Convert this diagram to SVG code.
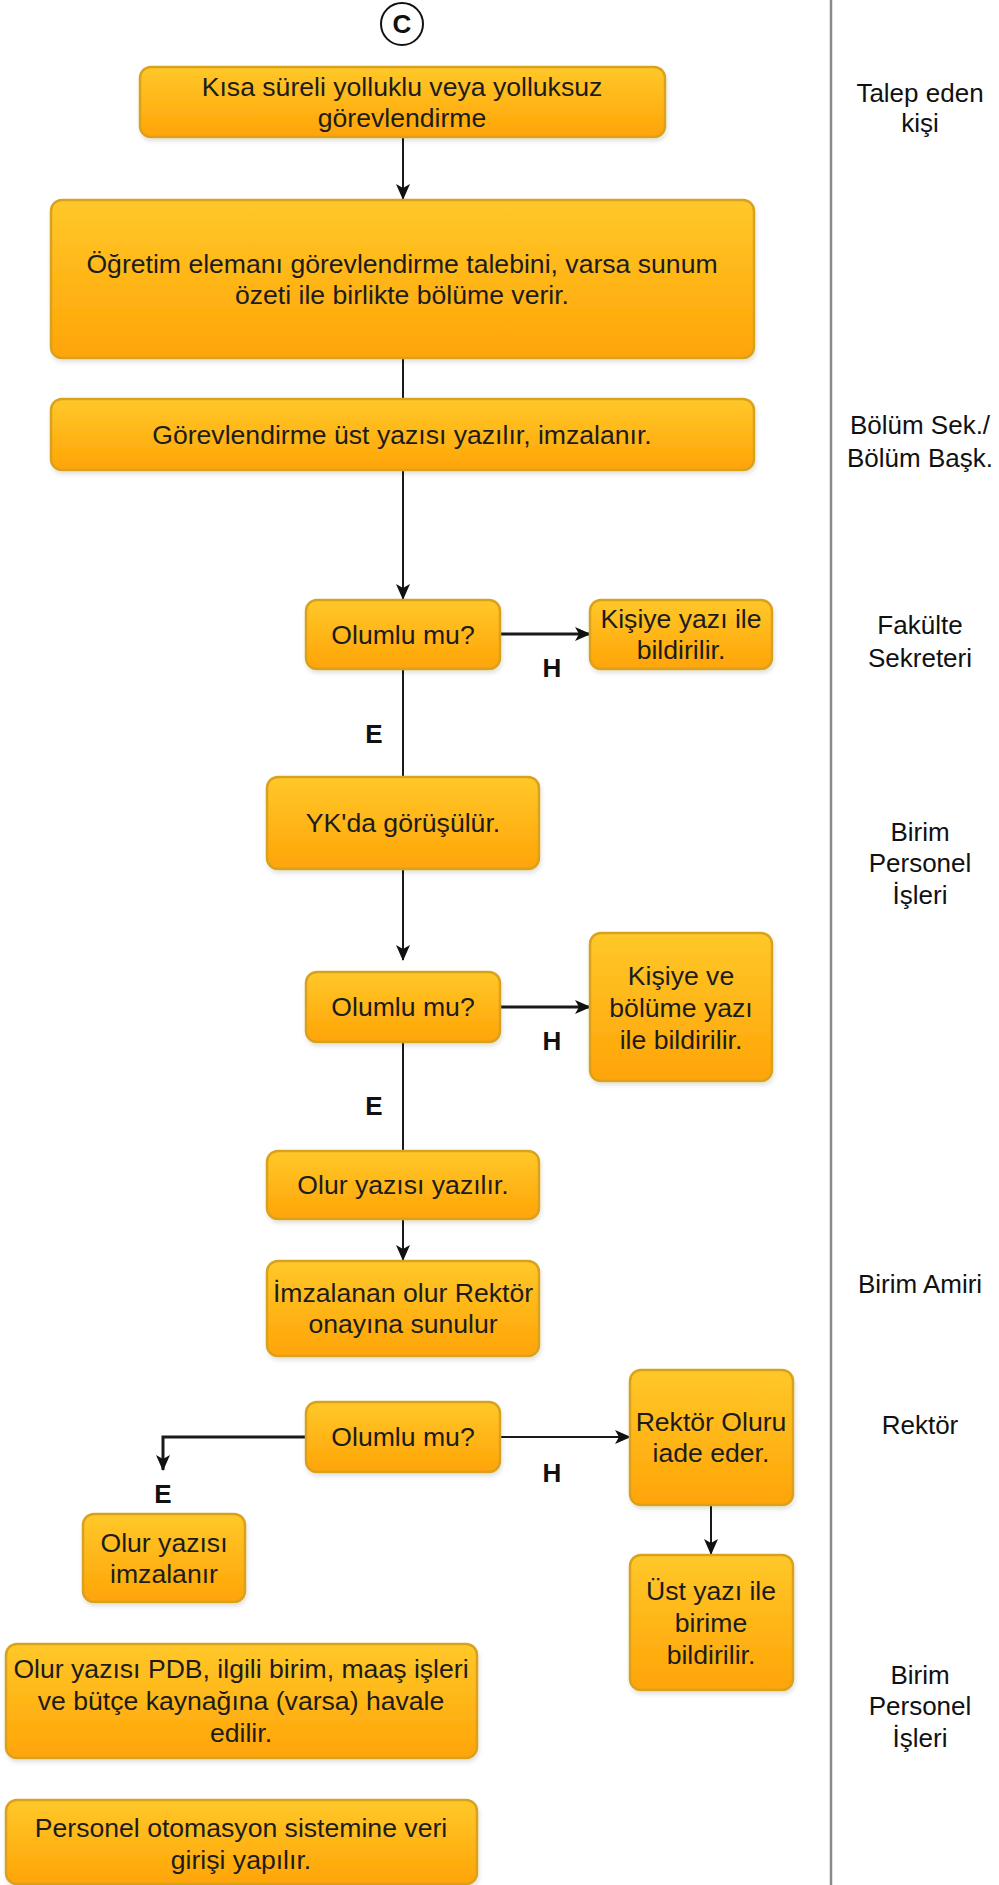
<svg xmlns="http://www.w3.org/2000/svg" width="999" height="1885" viewBox="0 0 999 1885">
<style>
.box{fill:url(#og);stroke:#D9A21C;stroke-width:2.5;filter:url(#sh)}
.t{font-family:"Liberation Sans",Arial,sans-serif;font-size:26.6px;fill:#1c1c1c;text-anchor:middle}
.lane{font-family:"Liberation Sans",Arial,sans-serif;font-size:26px;fill:#111;text-anchor:middle}
.lbl{font-family:"Liberation Sans",Arial,sans-serif;font-size:26px;font-weight:bold;fill:#111;text-anchor:middle}
.c{fill:none;stroke:#1a1a1a;stroke-width:2}
.ch{fill:none;stroke:#1a1a1a;stroke-width:3}
</style>
<defs>
<linearGradient id="og" x1="0" y1="0" x2="0" y2="1">
<stop offset="0" stop-color="#FFC82A"/>
<stop offset="1" stop-color="#FFA406"/>
</linearGradient>
<filter id="sh" x="-10%" y="-10%" width="120%" height="130%">
<feDropShadow dx="1" dy="3" stdDeviation="2" flood-color="#000" flood-opacity="0.12"/>
</filter>
<marker id="ah" viewBox="0 0 16 14" refX="15" refY="7" markerWidth="16" markerHeight="14" markerUnits="userSpaceOnUse" orient="auto">
<path d="M0,0 L16,7 L0,14 L4,7 z" fill="#111"/>
</marker>
</defs>
<rect width="999" height="1885" fill="#fff"/>
<line x1="831" y1="0" x2="831" y2="1885" stroke="#8a8a8a" stroke-width="2.5"/>
<g id="lanes">
<text class="lane" x="920" y="102">Talep eden</text>
<text class="lane" x="920" y="132">kişi</text>
<text class="lane" x="920" y="434">Bölüm Sek./</text>
<text class="lane" x="920" y="467">Bölüm Başk.</text>
<text class="lane" x="920" y="634">Fakülte</text>
<text class="lane" x="920" y="667">Sekreteri</text>
<text class="lane" x="920" y="841">Birim</text>
<text class="lane" x="920" y="872">Personel</text>
<text class="lane" x="920" y="904">İşleri</text>
<text class="lane" x="920" y="1293">Birim Amiri</text>
<text class="lane" x="920" y="1434">Rektör</text>
<text class="lane" x="920" y="1684">Birim</text>
<text class="lane" x="920" y="1715">Personel</text>
<text class="lane" x="920" y="1747">İşleri</text>
</g>
<g id="connectors">
<line class="c" x1="403" y1="137" x2="403" y2="199" marker-end="url(#ah)"/>
<line class="c" x1="403" y1="358" x2="403" y2="399"/>
<line class="c" x1="403" y1="470" x2="403" y2="599" marker-end="url(#ah)"/>
<line class="ch" x1="500" y1="634" x2="590" y2="634" marker-end="url(#ah)"/>
<line class="c" x1="403" y1="669" x2="403" y2="777"/>
<line class="c" x1="403" y1="869" x2="403" y2="960" marker-end="url(#ah)"/>
<line class="ch" x1="500" y1="1007" x2="590" y2="1007" marker-end="url(#ah)"/>
<line class="c" x1="403" y1="1042" x2="403" y2="1151"/>
<line class="c" x1="403" y1="1219" x2="403" y2="1260" marker-end="url(#ah)"/>
<line class="c" x1="500" y1="1437" x2="630" y2="1437" marker-end="url(#ah)"/>
<path class="ch" d="M306,1437 H163 V1470" marker-end="url(#ah)"/>
<line class="c" x1="711" y1="1505" x2="711" y2="1554" marker-end="url(#ah)"/>
</g>
<g id="edge-labels">
<text class="lbl" x="552" y="677">H</text>
<text class="lbl" x="374" y="743">E</text>
<text class="lbl" x="552" y="1050">H</text>
<text class="lbl" x="374" y="1115">E</text>
<text class="lbl" x="552" y="1482">H</text>
<text class="lbl" x="163" y="1503">E</text>
</g>
<g id="start">
<circle cx="402" cy="24" r="21" fill="#fff" stroke="#111" stroke-width="2"/>
<text class="lbl" x="402" y="33">C</text>
</g>
<g id="n1"><rect class="box" x="140" y="67" width="525" height="70" rx="11"/>
<text class="t" x="402" y="96">Kısa süreli yolluklu veya yolluksuz</text>
<text class="t" x="402" y="127">görevlendirme</text></g>
<g id="n2"><rect class="box" x="51" y="200" width="703" height="158" rx="11"/>
<text class="t" x="402" y="273">Öğretim elemanı görevlendirme talebini, varsa sunum</text>
<text class="t" x="402" y="304">özeti ile birlikte bölüme verir.</text></g>
<g id="n3"><rect class="box" x="51" y="399" width="703" height="71" rx="11"/>
<text class="t" x="402" y="444">Görevlendirme üst yazısı yazılır, imzalanır.</text></g>
<g id="d1"><rect class="box" x="306" y="600" width="194" height="69" rx="11"/>
<text class="t" x="403" y="644">Olumlu mu?</text></g>
<g id="n4"><rect class="box" x="590" y="600" width="182" height="69" rx="11"/>
<text class="t" x="681" y="628">Kişiye yazı ile</text>
<text class="t" x="681" y="659">bildirilir.</text></g>
<g id="n5"><rect class="box" x="267" y="777" width="272" height="92" rx="11"/>
<text class="t" x="403" y="832">YK'da görüşülür.</text></g>
<g id="d2"><rect class="box" x="306" y="972" width="194" height="70" rx="11"/>
<text class="t" x="403" y="1016">Olumlu mu?</text></g>
<g id="n6"><rect class="box" x="590" y="933" width="182" height="148" rx="11"/>
<text class="t" x="681" y="985">Kişiye ve</text>
<text class="t" x="681" y="1017">bölüme yazı</text>
<text class="t" x="681" y="1049">ile bildirilir.</text></g>
<g id="n7"><rect class="box" x="267" y="1151" width="272" height="68" rx="11"/>
<text class="t" x="403" y="1194">Olur yazısı yazılır.</text></g>
<g id="n8"><rect class="box" x="267" y="1261" width="272" height="95" rx="11"/>
<text class="t" x="403" y="1302">İmzalanan olur Rektör</text>
<text class="t" x="403" y="1333">onayına sunulur</text></g>
<g id="d3"><rect class="box" x="306" y="1402" width="194" height="70" rx="11"/>
<text class="t" x="403" y="1446">Olumlu mu?</text></g>
<g id="n9"><rect class="box" x="630" y="1370" width="163" height="135" rx="11"/>
<text class="t" x="711" y="1431">Rektör Oluru</text>
<text class="t" x="711" y="1462">iade eder.</text></g>
<g id="n10"><rect class="box" x="83" y="1514" width="162" height="88" rx="11"/>
<text class="t" x="164" y="1552">Olur yazısı</text>
<text class="t" x="164" y="1583">imzalanır</text></g>
<g id="n11"><rect class="box" x="630" y="1555" width="163" height="135" rx="11"/>
<text class="t" x="711" y="1600">Üst yazı ile</text>
<text class="t" x="711" y="1632">birime</text>
<text class="t" x="711" y="1664">bildirilir.</text></g>
<g id="n12"><rect class="box" x="6" y="1644" width="471" height="114" rx="11"/>
<text class="t" x="241" y="1678">Olur yazısı PDB, ilgili birim, maaş işleri</text>
<text class="t" x="241" y="1710">ve bütçe kaynağına (varsa) havale</text>
<text class="t" x="241" y="1742">edilir.</text></g>
<g id="n13"><rect class="box" x="6" y="1800" width="471" height="84" rx="11"/>
<text class="t" x="241" y="1837">Personel otomasyon sistemine veri</text>
<text class="t" x="241" y="1869">girişi yapılır.</text></g>
</svg>
